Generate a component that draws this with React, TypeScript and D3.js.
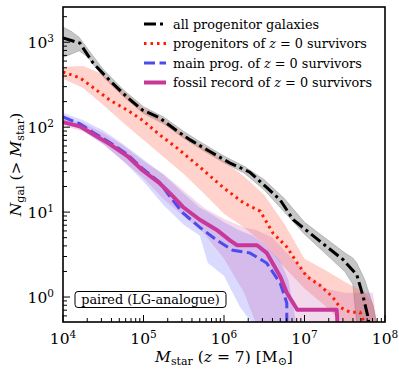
import React from "react";
import * as d3 from "d3";

// all values are log10(M_star) and log10(N_gal)
const allLogM = [4.0, 4.21, 4.37, 4.58, 4.8, 4.99, 5.2, 5.41, 5.58, 5.83, 6.07, 6.32, 6.53, 6.7, 6.86, 7.07, 7.28, 7.48, 7.65, 7.73, 7.79, 7.8];
const allLogN = [3.05, 2.99, 2.76, 2.55, 2.35, 2.2, 2.11, 1.96, 1.85, 1.71, 1.58, 1.47, 1.29, 1.14, 0.91, 0.75, 0.59, 0.44, 0.26, 0.0, -0.24, -0.32];

const progLogM = [4.0, 4.21, 4.37, 4.58, 4.8, 4.99, 5.2, 5.41, 5.7, 5.99, 6.24, 6.45, 6.61, 6.78, 6.91, 7.03, 7.19, 7.35, 7.44, 7.57, 7.69, 7.75];
const progLogN = [2.65, 2.58, 2.47, 2.32, 2.2, 2.08, 1.91, 1.76, 1.53, 1.29, 1.11, 1.01, 0.75, 0.59, 0.4, 0.24, 0.14, 0.0, -0.12, -0.18, -0.18, -0.32];

const mainLogM = [4.0, 4.21, 4.37, 4.58, 4.8, 4.99, 5.2, 5.33, 5.49, 5.7, 5.91, 6.11, 6.32, 6.53, 6.7, 6.78, 6.78];
const mainLogN = [2.12, 2.04, 1.94, 1.82, 1.68, 1.51, 1.35, 1.18, 0.99, 0.82, 0.67, 0.55, 0.52, 0.4, 0.16, -0.07, -0.32];

const fossilLogM = [4.0, 4.21, 4.37, 4.58, 4.8, 4.99, 5.2, 5.33, 5.49, 5.7, 5.91, 6.07, 6.16, 6.41, 6.53, 6.7, 6.78, 6.91, 7.4, 7.41];
const fossilLogN = [2.06, 2.01, 1.92, 1.8, 1.66, 1.49, 1.34, 1.22, 1.06, 0.91, 0.79, 0.67, 0.61, 0.61, 0.52, 0.24, 0.05, -0.15, -0.15, -0.32];

// scatter bands
const allBandM = [4.0, 4.1, 4.2, 4.3, 4.5, 4.75, 5.0, 5.25, 5.5, 5.75, 6.0, 6.25, 6.5, 6.75, 7.0, 7.25, 7.5, 7.6, 7.65, 7.75, 7.85, 7.9];
const allBandLo = [2.82, 2.86, 2.9, 2.83, 2.59, 2.36, 2.16, 2.04, 1.87, 1.72, 1.58, 1.46, 1.26, 1.0, 0.74, 0.52, 0.3, 0.15, -0.32, -0.32, -0.32, -0.32];
const allBandHi = [3.18, 3.13, 3.06, 2.93, 2.68, 2.44, 2.24, 2.12, 1.95, 1.8, 1.66, 1.54, 1.38, 1.16, 0.88, 0.7, 0.52, 0.46, 0.4, 0.2, -0.1, -0.32];

const progBandM = [4.0, 4.25, 4.5, 4.75, 5.0, 5.25, 5.5, 5.75, 6.0, 6.25, 6.5, 6.75, 7.0, 7.25, 7.5, 7.75, 7.85, 7.9];
const progBandLo = [2.57, 2.46, 2.26, 2.05, 1.85, 1.65, 1.45, 1.22, 0.98, 0.82, 0.62, 0.35, 0.1, -0.1, -0.32, -0.32, -0.32, -0.32];
const progBandHi = [2.71, 2.72, 2.62, 2.42, 2.22, 2.08, 1.92, 1.76, 1.6, 1.42, 1.2, 0.86, 0.45, 0.32, 0.18, 0.05, -0.07, -0.32];

const mainBandM = [4.0, 4.25, 4.5, 4.75, 5.0, 5.25, 5.5, 5.7, 5.8, 6.0, 6.2, 6.36, 6.5, 6.7, 6.8, 6.9];
const mainBandLo = [2.06, 1.96, 1.8, 1.6, 1.36, 1.08, 0.85, 0.72, 0.4, 0.25, -0.12, -0.32, -0.32, -0.32, -0.32, -0.32];
const mainBandHi = [2.17, 2.08, 1.96, 1.8, 1.62, 1.44, 1.22, 1.05, 1.0, 0.88, 0.78, 0.72, 0.62, 0.42, 0.2, -0.32];

const fossilBandM = [4.0, 4.25, 4.5, 4.75, 5.0, 5.25, 5.5, 5.75, 6.0, 6.25, 6.4, 6.6, 6.75, 7.0, 7.25, 7.5, 7.85, 7.9];
const fossilBandLo = [2.02, 1.95, 1.8, 1.6, 1.4, 1.15, 0.95, 0.75, 0.45, 0.05, -0.32, -0.32, -0.32, -0.32, -0.32, -0.32, -0.32, -0.32];
const fossilBandHi = [2.1, 2.05, 1.93, 1.78, 1.6, 1.45, 1.25, 1.05, 0.92, 0.82, 0.79, 0.7, 0.55, 0.3, 0.1, 0.05, 0.05, -0.32];

const xTickExp = [4, 5, 6, 7, 8];
const yTickExp = [0, 1, 2, 3];

const W = 399;
const H = 375;
const margin = { top: 7, right: 14, bottom: 53, left: 63 };
const serif = "'DejaVu Serif', serif";

const x = d3.scaleLog().domain([1e4, 1e8]).range([margin.left, W - margin.right]);
const y = d3.scaleLog().domain([0.508, 2600]).range([H - margin.bottom, margin.top]);

type P = [number, number];
const pts = (m: number[], n: number[]): P[] => m.map((v, i) => [v, n[i]]);

const line = d3
    .line<P>()
    .x((d) => x(Math.pow(10, d[0])))
    .y((d) => y(Math.pow(10, d[1])));

const band = (m: number[], lo: number[], hi: number[]) =>
    d3
        .area<number>()
        .x((d) => x(Math.pow(10, m[d])))
        .y0((d) => y(Math.pow(10, lo[d])))
        .y1((d) => y(Math.pow(10, hi[d])))(m.map((_, i) => i)) || "";

const minorTicks = (lo: number, hi: number) => {
    const out: number[] = [];
    for (let e = lo; e <= hi; e++)
        for (let k = 2; k <= 9; k++) out.push(k * Math.pow(10, e));
    return out;
};

const Pow10 = ({ e }: { e: number }) => (
    <>
        10
        <tspan dy={-6.5} fontSize={10.5}>
            {e}
        </tspan>
    </>
);

const Zeq0 = () => (
    <>
        <tspan fontStyle="italic">z</tspan> = 0 survivors
    </>
);

const legend = [
    { label: "all progenitor galaxies", z: false, stroke: "#000", width: 3, dash: "12 4 3 4" },
    { label: "progenitors of ", z: true, stroke: "#ff1a00", width: 3, dash: "2.5 4" },
    { label: "main prog. of ", z: true, stroke: "#4b4bee", width: 3, dash: "11 4.5" },
    { label: "fossil record of ", z: true, stroke: "#c8389a", width: 4, dash: null },
];

export default function App() {
    const [x0, x1] = x.range();
    const [y0, y1] = y.range();
    const yMinor = minorTicks(-1, 3).filter((v) => v >= 0.508 && v <= 2600);
    const xMinor = minorTicks(4, 7);

    return (
        <svg
            width={W}
            height={H}
            style={{ position: "absolute", left: 0, top: 0, background: "#fff" }}
            fontFamily={serif}
        >
            <defs>
                <clipPath id="plot">
                    <rect x={x0} y={y1} width={x1 - x0} height={y0 - y1} />
                </clipPath>
            </defs>

            <g clipPath="url(#plot)">
                <path d={band(allBandM, allBandLo, allBandHi)} fill="#808080" fillOpacity={0.45} stroke="#808080" strokeOpacity={0.5} strokeWidth={0.8} />
                <path d={band(progBandM, progBandLo, progBandHi)} fill="#ff6a55" fillOpacity={0.3} />
                <path d={band(mainBandM, mainBandLo, mainBandHi)} fill="#6a6aff" fillOpacity={0.25} />
                <path d={band(fossilBandM, fossilBandLo, fossilBandHi)} fill="#c040a0" fillOpacity={0.2} />

                <path d={line(pts(allLogM, allLogN)) || ""} fill="none" stroke="#000" strokeWidth={3} strokeDasharray="12 4 3 4" />
                <path d={line(pts(progLogM, progLogN)) || ""} fill="none" stroke="#ff1a00" strokeWidth={3} strokeDasharray="2.5 4" />
                <path d={line(pts(mainLogM, mainLogN)) || ""} fill="none" stroke="#4b4bee" strokeWidth={3} strokeDasharray="11 4.5" />
                <path d={line(pts(fossilLogM, fossilLogN)) || ""} fill="none" stroke="#c8389a" strokeWidth={4} strokeLinejoin="round" />
            </g>

            {/* ticks, pointing inward */}
            <g stroke="#000" strokeWidth={1}>
                {xTickExp.map((e) => (
                    <line key={"xM" + e} x1={x(Math.pow(10, e))} x2={x(Math.pow(10, e))} y1={y0} y2={y0 - 7} />
                ))}
                {xMinor.map((v) => (
                    <line key={"xm" + v} x1={x(v)} x2={x(v)} y1={y0} y2={y0 - 4} />
                ))}
                {yTickExp.map((e) => (
                    <line key={"yM" + e} x1={x0} x2={x0 + 7} y1={y(Math.pow(10, e))} y2={y(Math.pow(10, e))} />
                ))}
                {yMinor.map((v) => (
                    <line key={"ym" + v} x1={x0} x2={x0 + 4} y1={y(v)} y2={y(v)} />
                ))}
            </g>

            <rect x={x0} y={y1} width={x1 - x0} height={y0 - y1} fill="none" stroke="#000" strokeWidth={1.6} />

            {xTickExp.map((e) => (
                <text key={"xl" + e} x={x(Math.pow(10, e))} y={y0 + 22} fontSize={15.5} textAnchor="middle">
                    <Pow10 e={e} />
                </text>
            ))}
            {yTickExp.map((e) => (
                <text key={"yl" + e} x={x0 - 9} y={y(Math.pow(10, e)) + 6} fontSize={15.5} textAnchor="end">
                    <Pow10 e={e} />
                </text>
            ))}

            <text x={(x0 + x1) / 2} y={y0 + 40} fontSize={15.5} textAnchor="middle">
                <tspan fontStyle="italic">M</tspan>
                <tspan fontSize={11} dy={3}>star</tspan>
                <tspan dy={-3}> (</tspan>
                <tspan fontStyle="italic">z</tspan> = 7) [M
                <tspan fontSize={11} dy={3}>⊙</tspan>
                <tspan dy={-3}>]</tspan>
            </text>

            <text transform={`translate(21,${(y0 + y1) / 2}) rotate(-90)`} fontSize={15.5} textAnchor="middle">
                <tspan fontStyle="italic">N</tspan>
                <tspan fontSize={11} dy={3}>gal</tspan>
                <tspan dy={-3}> (&gt; </tspan>
                <tspan fontStyle="italic">M</tspan>
                <tspan fontSize={11} dy={3}>star</tspan>
                <tspan dy={-3}>)</tspan>
            </text>

            {/* legend */}
            {legend.map((l, i) => {
                const ly = 24 + i * 19.5;
                return (
                    <g key={l.label}>
                        <line x1={144} x2={166} y1={ly} y2={ly} stroke={l.stroke} strokeWidth={l.width} strokeDasharray={l.dash || undefined} />
                        <text x={173} y={ly + 4.5} fontSize={12.8}>
                            {l.label}
                            {l.z && <Zeq0 />}
                        </text>
                    </g>
                );
            })}

            <rect x={75} y={291.5} width={151} height={16} rx={3} fill="#fff" stroke="#000" strokeWidth={1} />
            <text x={150.5} y={304} fontSize={12.8} textAnchor="middle">
                paired (LG-analogue)
            </text>
        </svg>
    );
}
